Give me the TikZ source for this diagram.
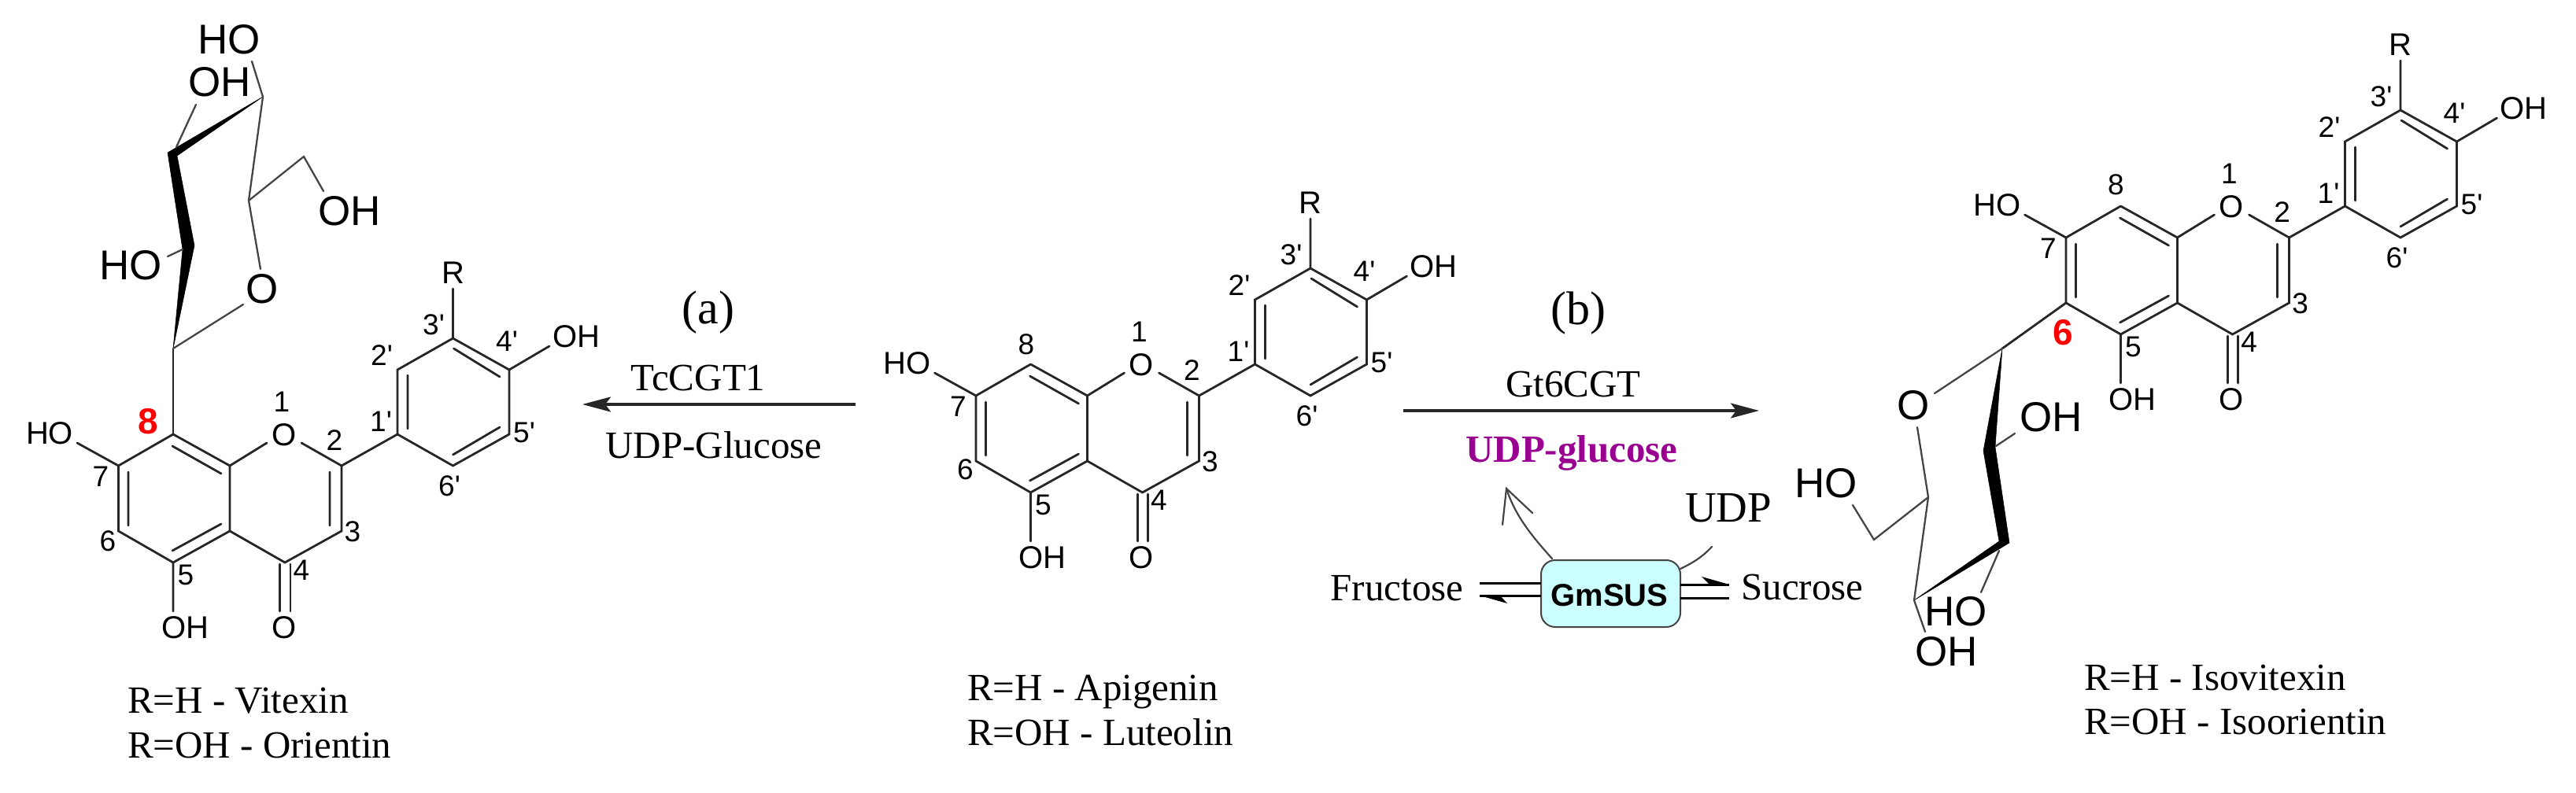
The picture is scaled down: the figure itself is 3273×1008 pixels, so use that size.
\documentclass[tikz,border=0pt]{standalone}
\usepackage{fontspec}
\usetikzlibrary{arrows.meta}
\setmainfont{Liberation Serif}
\newfontfamily\arialf{Liberation Sans}
\definecolor{bondc}{HTML}{262626}
\definecolor{sugarc}{HTML}{444444}
\definecolor{udpc}{HTML}{990090}
\definecolor{susfill}{HTML}{CCFFFF}
\tikzset{
  bond/.style={draw=bondc,line width=2.8pt,line cap=round,line join=miter},
  thinbond/.style={draw=sugarc,line width=2.3pt,line cap=round,line join=miter},
  atom/.style={inner sep=0pt,font=\arialf\fontsize{40}{40}\selectfont,text=black},
  num/.style={inner sep=0pt,font=\arialf\fontsize{37}{37}\selectfont,text=black},
  sug/.style={inner sep=0pt,font=\arialf\fontsize{53}{53}\selectfont,text=black},
  redn/.style={inner sep=0pt,font=\arialf\bfseries\fontsize{46}{46}\selectfont,text=red},
  serif/.style={inner sep=0pt,anchor=base,font=\fontsize{49}{49}\selectfont,text=black},
  legend/.style={serif,anchor=base west},
  rxn/.style={draw=bondc,line width=3.8pt,-{Stealth[length=36pt,width=19pt,inset=7pt]}},
  wedgefill/.style={fill=black,draw=black,line width=0.5pt,line join=round},
  linebar/.style={draw=black,line width=3pt},
  harp/.style={fill=black,draw=none},
  curvearr/.style={draw=sugarc,line width=2.2pt,line cap=round}
}
% #1 prefix, shift is set by the surrounding scope
\newcommand{\flavone}[1]{%
  \coordinate (#1c8) at (220,552); \coordinate (#1c7) at (150.5,592);
  \coordinate (#1c6) at (150.5,675); \coordinate (#1c5) at (220,715);
  \coordinate (#1c4a) at (292,675); \coordinate (#1c8a) at (292,592);
  \coordinate (#1c2) at (434,592); \coordinate (#1c3) at (434,675);
  \coordinate (#1c4) at (362,715); \coordinate (#1ca) at (505,552);
  \coordinate (#1cb) at (505,470); \coordinate (#1cc) at (575.5,430);
  \coordinate (#1cd) at (647,470); \coordinate (#1ce) at (647,552);
  \coordinate (#1cf) at (575.5,592);
  \coordinate (#1o1a) at (339,563); \coordinate (#1o1b) at (383,563);
  \coordinate (#1i8a) at (219,567); \coordinate (#1i8b) at (281,602);
  \coordinate (#1i7a) at (163,600); \coordinate (#1i7b) at (163,668);
  \coordinate (#1i5a) at (219,700); \coordinate (#1i5b) at (281,666);
  \coordinate (#1i2a) at (419,600); \coordinate (#1i2b) at (419,668);
  \coordinate (#1iaa) at (518,477); \coordinate (#1iab) at (518,545);
  \coordinate (#1ica) at (576.5,443); \coordinate (#1icb) at (635,479);
  \coordinate (#1iea) at (635,543); \coordinate (#1ieb) at (575.5,578);
  \coordinate (#1oa) at (355.6,717); \coordinate (#1ob) at (355.6,777);
  \coordinate (#1oc) at (369,717); \coordinate (#1od) at (369,777);
  \coordinate (#1oh5) at (220,777); \coordinate (#1oh7) at (98,563);
  \coordinate (#1rb) at (575.5,367); \coordinate (#1oh4) at (698,440);
  \draw[bond] (#1c8) -- (#1c7) -- (#1c6) -- (#1c5) -- (#1c4a) -- (#1c8a) -- (#1c8);
  \draw[bond] (#1c8a) -- (#1o1a) (#1o1b) -- (#1c2) -- (#1c3) -- (#1c4) -- (#1c4a);
  \draw[bond] (#1c2) -- (#1ca) -- (#1cb) -- (#1cc) -- (#1cd) -- (#1ce) -- (#1cf) -- (#1ca);
  \draw[bond] (#1i8a) -- (#1i8b) (#1i7a) -- (#1i7b) (#1i5a) -- (#1i5b) (#1i2a) -- (#1i2b);
  \draw[bond] (#1iaa) -- (#1iab) (#1ica) -- (#1icb) (#1iea) -- (#1ieb);
  \draw[bond] (#1oa) -- (#1ob) (#1oc) -- (#1od);
  \draw[bond] (#1c5) -- (#1oh5) (#1c7) -- (#1oh7) (#1cc) -- (#1rb) (#1cd) -- (#1oh4);
  \node[atom] (#1O) at (361,553) {O};
  \node[atom] (#1Oket) at (361,798) {O};
  \node[atom] (#1OHb) at (235,798) {OH};
  \node[atom] (#1HO) at (63,551) {HO};
  \node[atom] (#1R) at (575.5,347) {R};
  \node[atom] (#1OHd) at (732,428) {OH};
  \node[num] (#1n1) at (358,511) {1};
  \node[num] (#1n2) at (425,560) {2};
  \node[num] (#1n3) at (448,676) {3};
  \node[num] (#1n4) at (383,725) {4};
  \node[num] (#1n5) at (236,731) {5};
  \node[num] (#1n7) at (128,606) {7};
  \node[num] (#1nb) at (485,452) {2'};
  \node[num] (#1nc) at (551,413) {3'};
  \node[num] (#1nd) at (644,434) {4'};
  \node[num] (#1ne) at (666,550) {5'};
  \node[num] (#1nf) at (571,618) {6'};
  \node[num] (#1na) at (484,536) {1'};
}
\begin{document}
\begin{tikzpicture}[x=1pt,y=-1pt]
\useasboundingbox (0,0) rectangle (3273,1008);
% ---------- left: vitexin
\begin{scope}
  \flavone{L}
  \node[num] (Ln6) at (137,688) {6};
  \node[redn] (Lred) at (188,536) {8};
  \coordinate (Ls1) at (220,443);
  \draw[bond] (Lc8) -- (Ls1);
  \fill[wedgefill] (220,443) -- (232,317) -- (213,194) -- (334,123) -- (225,198) -- (247,312) -- cycle;
  \coordinate (Ls2) at (334,123); \coordinate (Ls3) at (316,255);
  \coordinate (Ls4) at (331,342); \coordinate (Ls5) at (386,199);
  \coordinate (Ls6) at (411,243); \coordinate (Ls7) at (320,78);
  \coordinate (Ls8) at (224,187); \coordinate (Ls9) at (249,133);
  \coordinate (Ls10) at (213,326); \coordinate (Ls11) at (232,317);
  \coordinate (Ls12) at (309,387);
  \draw[thinbond] (Ls7) -- (Ls2) -- (Ls3) -- (Ls4);
  \draw[thinbond] (Ls3) -- (Ls5) -- (Ls6);
  \draw[thinbond] (Ls8) -- (Ls9) (Ls10) -- (Ls11) (Ls12) -- (Ls1);
  \node[sug] (LHOa) at (291,50) {HO};
  \node[sug] (LOHa) at (279,104) {OH};
  \node[sug] (LOHb) at (444,268) {OH};
  \node[sug] (LHOb) at (166,337) {HO};
  \node[sug] (LOs) at (333,367) {O};
\end{scope}
\node[legend] (Lt1) at (162,906) {R=H - Vitexin};
\node[legend] (Lt2) at (162,963) {R=OH - Orientin};
% ---------- centre
\begin{scope}[shift={(1089.5,-89)}]
  \flavone{C}
  \node[num] (Cn6) at (137,686) {6};
  \node[num] (Cn8) at (214.5,527) {8};
\end{scope}
\node[legend] (Ct1) at (1229,890) {R=H - Apigenin};
\node[legend] (Ct2) at (1229,947) {R=OH - Luteolin};
% ---------- right
\begin{scope}[shift={(2474.5,-290)}]
  \flavone{R}
  \node[num] (Rn8) at (214,525) {8};
\end{scope}
\node[redn] (Rred) at (2621.5,423) {6};
\coordinate (Rs1) at (2544,443);
\draw[bond] (Rc6) -- (Rs1);
\fill[wedgefill] (2544,443) -- (2535,568) -- (2553,690) -- (2432,763) -- (2540,688) -- (2520,573) -- cycle;
\coordinate (Rs2) at (2432,763); \coordinate (Rs3) at (2450,632);
\coordinate (Rs4) at (2436,543); \coordinate (Rs5) at (2381,686);
\coordinate (Rs6) at (2354,642); \coordinate (Rs7) at (2540,700);
\coordinate (Rs8) at (2517,753); \coordinate (Rs9) at (2432,763);
\coordinate (Rs10) at (2446,803); \coordinate (Rs11) at (2536,567);
\coordinate (Rs12) at (2560,551); \coordinate (Rs13) at (2458,500);
\draw[thinbond] (Rs2) -- (Rs3) -- (Rs4);
\draw[thinbond] (Rs3) -- (Rs5) -- (Rs6);
\draw[thinbond] (Rs7) -- (Rs8) (Rs9) -- (Rs10) (Rs11) -- (Rs12) (Rs13) -- (Rs1);
\node[sug] (ROs) at (2431,515) {O};
\node[sug] (RHOa) at (2320,614) {HO};
\node[sug] (RHOb) at (2485,777) {HO};
\node[sug] (ROHa) at (2473,828) {OH};
\node[sug] (ROHb) at (2606,530) {OH};
\node[legend] (Rt1) at (2648,877) {R=H - Isovitexin};
\node[legend] (Rt2) at (2648,933) {R=OH - Isoorientin};
% ---------- reaction (a)
\coordinate (Aa) at (1087,514); \coordinate (Ab) at (740,514);
\draw[rxn] (Aa) -- (Ab);
\node[inner sep=0pt,font=\fontsize{60}{60}\selectfont] (Atxt) at (900,397) {(a)};
\node[serif] (Aen) at (887,496) {TcCGT1};
\node[serif] (Asub) at (907,582) {UDP-Glucose};
% ---------- reaction (b)
\coordinate (Ba) at (1783,522); \coordinate (Bb) at (2235,522);
\draw[rxn] (Ba) -- (Bb);
\node[inner sep=0pt,font=\fontsize{60}{60}\selectfont] (Btxt) at (2005,398) {(b)};
\node[serif] (Ben) at (1999,504) {Gt6CGT};
\node[serif,font=\bfseries\fontsize{49}{49}\selectfont,text=udpc] (Bsub) at (1997,587) {UDP-glucose};
% ---------- GmSUS
\node[draw=sugarc,fill=susfill,line width=2pt,rounded corners=18pt,minimum width=177pt,minimum height=85pt,inner sep=0pt] (sus) at (2046.5,754.5) {};
\node[inner sep=0pt,anchor=base,font=\arialf\bfseries\fontsize{40}{40}\selectfont] (sust) at (2045,770) {GmSUS};
\node[serif] (fru) at (1775,763) {Fructose};
\node[serif] (suc) at (2290,762) {Sucrose};
\node[serif,font=\fontsize{55}{55}\selectfont] (udp) at (2196,663) {UDP};
\coordinate (Fa) at (1880,741); \coordinate (Fb) at (1958,741);
\coordinate (Fc) at (1880,757); \coordinate (Fd) at (1958,757);
\coordinate (Sa) at (2135,743); \coordinate (Sb) at (2197,743);
\coordinate (Sc) at (2135,760); \coordinate (Sd) at (2197,760);
\draw[linebar] (Fa) -- (Fb) (Fc) -- (Fd) (Sa) -- (Sb) (Sc) -- (Sd);
\fill[harp] (Fc) -- (1915,767) -- (1906,757) -- cycle;
\fill[harp] (Sb) -- (2162,733) -- (2172,743) -- cycle;
\coordinate (Ga) at (1972,710); \coordinate (Gb) at (1914,621);
\coordinate (Gc) at (1909,667); \coordinate (Gd) at (1947,652);
\draw[curvearr] (Ga) .. controls (1945,680) and (1925,655) .. (Gb);
\draw[curvearr] (Gc) -- (Gb) -- (Gd);
\coordinate (Ua) at (2135,723); \coordinate (Ub) at (2175,695);
\draw[curvearr] (Ua) .. controls (2150,716) and (2163,708) .. (Ub);
\end{tikzpicture}
\end{document}
